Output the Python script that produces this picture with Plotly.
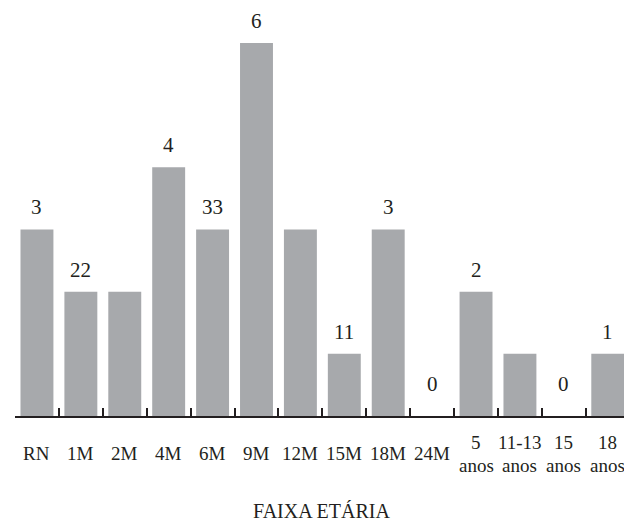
import plotly.graph_objects as go

# Age groups and counts
categories = ["RN", "1M", "2M", "4M", "6M", "9M", "12M", "15M", "18M", "24M",
              "5 anos", "11-13 anos", "15 anos", "18 anos"]
counts = [3, 2, 2, 4, 3, 6, 3, 1, 3, 0, 2, 1, 0, 1]
# Value labels as printed above the bars
value_labels = ["3", "22", "", "4", "33", "6", "", "11", "3", "0", "2", "", "0", "1"]
# Axis labels: first line and optional second line
tick_main = ["RN", "1M", "2M", "4M", "6M", "9M", "12M", "15M", "18M", "24M",
             "5", "11-13", "15", "18"]
tick_sub = ["", "", "", "", "", "", "", "", "", "", "anos", "anos", "anos", "anos"]

INK = "#231f20"
BAR = "#a7a9ac"
SERIF = "Liberation Serif, Times New Roman, serif"

fig = go.Figure(go.Bar(
    x=categories, y=counts,
    marker=dict(color=BAR, line=dict(width=0)),
    hoverinfo="skip",
))

annotations = []
for cat, v, lab in zip(categories, counts, value_labels):
    if lab:
        # labels of empty groups sit a little higher above the axis line
        shift = 32 if v == 0 else 22
        annotations.append(dict(
            x=cat, y=v, xref="x", yref="y", text=lab, showarrow=False,
            yanchor="middle", yshift=shift, font=dict(family=SERIF, size=21, color=INK),
        ))

for cat, main, sub in zip(categories, tick_main, tick_sub):
    if sub:
        annotations.append(dict(
            x=cat, y=0, xref="x", yref="paper", text=main, showarrow=False,
            yanchor="bottom", yshift=-38, borderpad=0,
            font=dict(family=SERIF, size=19, color=INK),
        ))
        annotations.append(dict(
            x=cat, y=0, xref="x", yref="paper", text=sub, showarrow=False,
            yanchor="top", yshift=-38, borderpad=0,
            font=dict(family=SERIF, size=19, color=INK),
        ))
    else:
        annotations.append(dict(
            x=cat, y=0, xref="x", yref="paper", text=main, showarrow=False,
            yanchor="middle", yshift=-37, font=dict(family=SERIF, size=19, color=INK),
        ))

annotations.append(dict(
    x=0.504, y=0, xref="paper", yref="paper", text="FAIXA ETÁRIA", showarrow=False,
    yanchor="middle", yshift=-95, font=dict(family=SERIF, size=20, color=INK),
))

fig.update_layout(
    width=624, height=523,
    margin=dict(l=15, r=0, t=0, b=107),
    paper_bgcolor="white", plot_bgcolor="white",
    bargap=0.25,
    showlegend=False,
    annotations=annotations,
    xaxis=dict(
        type="category", range=[-0.5, 13.37],
        tickson="boundaries", ticks="inside", ticklen=8, tickwidth=2, tickcolor=INK,
        showticklabels=False, showline=True, linewidth=2, linecolor=INK,
        showgrid=False, zeroline=False, fixedrange=True,
    ),
    yaxis=dict(
        range=[0, 6.69], visible=False, showgrid=False, zeroline=False, fixedrange=True,
    ),
)

fig.write_html("out.html", config={"displayModeBar": False})
